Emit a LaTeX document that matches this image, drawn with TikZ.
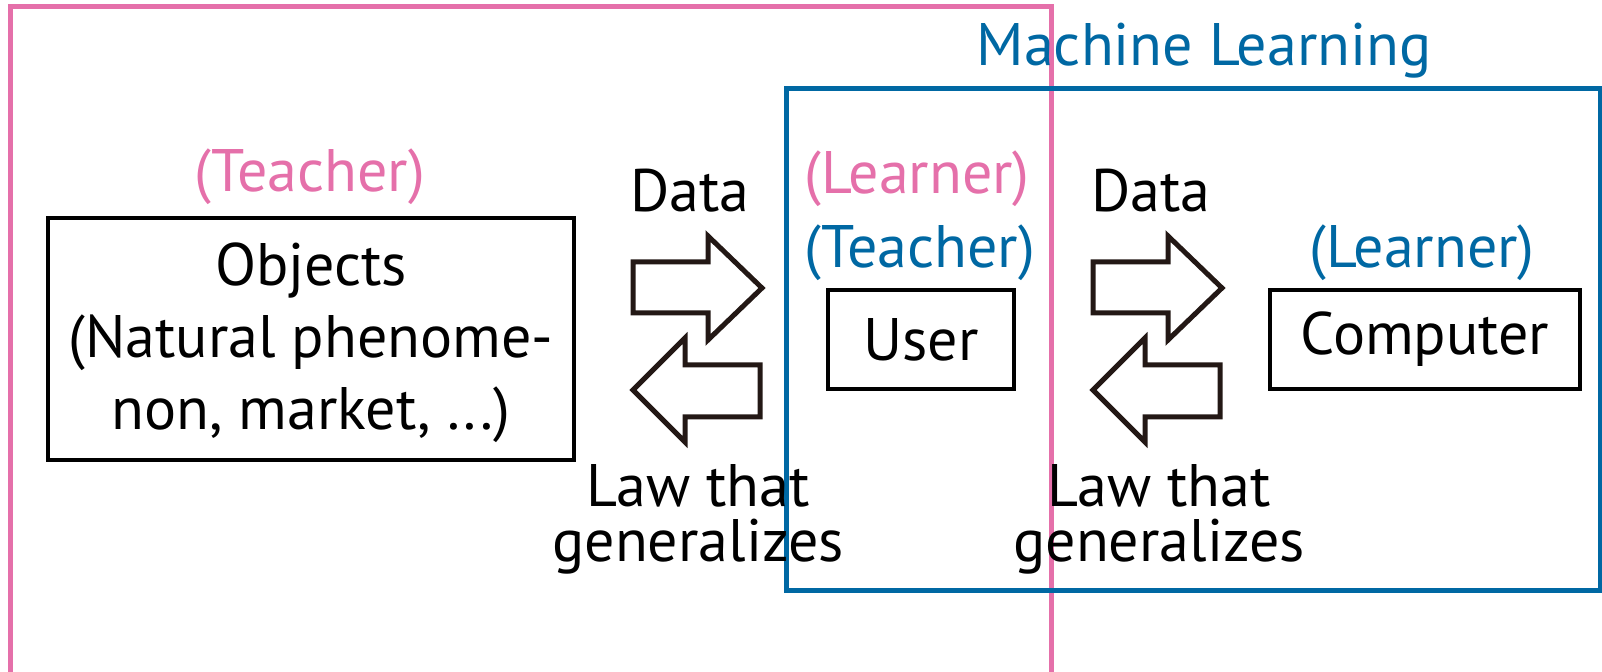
\documentclass[tikz,border=0pt]{standalone}
\usepackage{fontspec}
\setmainfont{PT Sans}
\definecolor{mlpink}{RGB}{229,112,170}
\definecolor{mlblue}{RGB}{0,104,163}
\definecolor{inkblack}{RGB}{35,24,21}

\begin{document}
\begin{tikzpicture}[x=0.5pt,y=-0.5pt]
\tikzstyle{every node}=[font=\fontsize{30}{36}\selectfont,inner sep=0pt];
\tikzstyle{lbl}=[anchor=base,align=center];
\tikzstyle{box}=[draw,line width=2.2pt];
\tikzstyle{bigarrow}=[draw=inkblack,line width=2.5pt,miter limit=10];
\useasboundingbox (0,0) rectangle (1602,672);

% the two regions
\begin{scope}
\clip (0,0) rectangle (1602,672);
\draw [mlpink,line width=2.5pt] (10.5,6.5) rectangle (1051,690);
\draw [mlblue,line width=2.5pt] (786,89) rectangle (1600,591);
\end{scope}
\node [lbl,text=mlblue] (ml) at (1204,66) {Machine Learning};

% boxes
\node [box,minimum width=263pt,minimum height=121pt] (objects) at (311,339) {};
\node [lbl] (objtext) at (311,430) {Objects\\(Natural phenome-\\non, market, ...)};
\node [box,minimum width=93pt,minimum height=49.5pt] (user) at (921,339.5) {User};
\node [box,minimum width=155pt,minimum height=49.5pt] (computer) at (1425,339.5) {Computer};

% roles
\node [lbl,text=mlpink] (teacher1) at (310,192) {(Teacher)};
\node [lbl,text=mlpink] (learner1) at (917,194) {(Learner)};
\node [lbl,text=mlblue] (teacher2) at (920,268) {(Teacher)};
\node [lbl,text=mlblue] (learner2) at (1422,268) {(Learner)};

% data and laws
\foreach \dx/\cx/\name in {633/690/a, 1093/1151/b} {
  \node [lbl] (data\name) at (\cx,212) {Data};
  \node [lbl,font=\fontsize{30}{27.5}\selectfont] (law\name) at (\cx+8,562) {Law that\\generalizes};
  \draw [bigarrow] (\dx,262) -- ++(75,0) -- ++(0,-26) -- ++(54,52) -- ++(-54,52)
    -- ++(0,-27) -- ++(-75,0) -- cycle;
  \draw [bigarrow] (\dx+127,365) -- ++(-75,0) -- ++(0,-27) -- ++(-52,52) -- ++(52,52)
    -- ++(0,-25) -- ++(75,0) -- cycle;
}
\end{tikzpicture}
\end{document}
